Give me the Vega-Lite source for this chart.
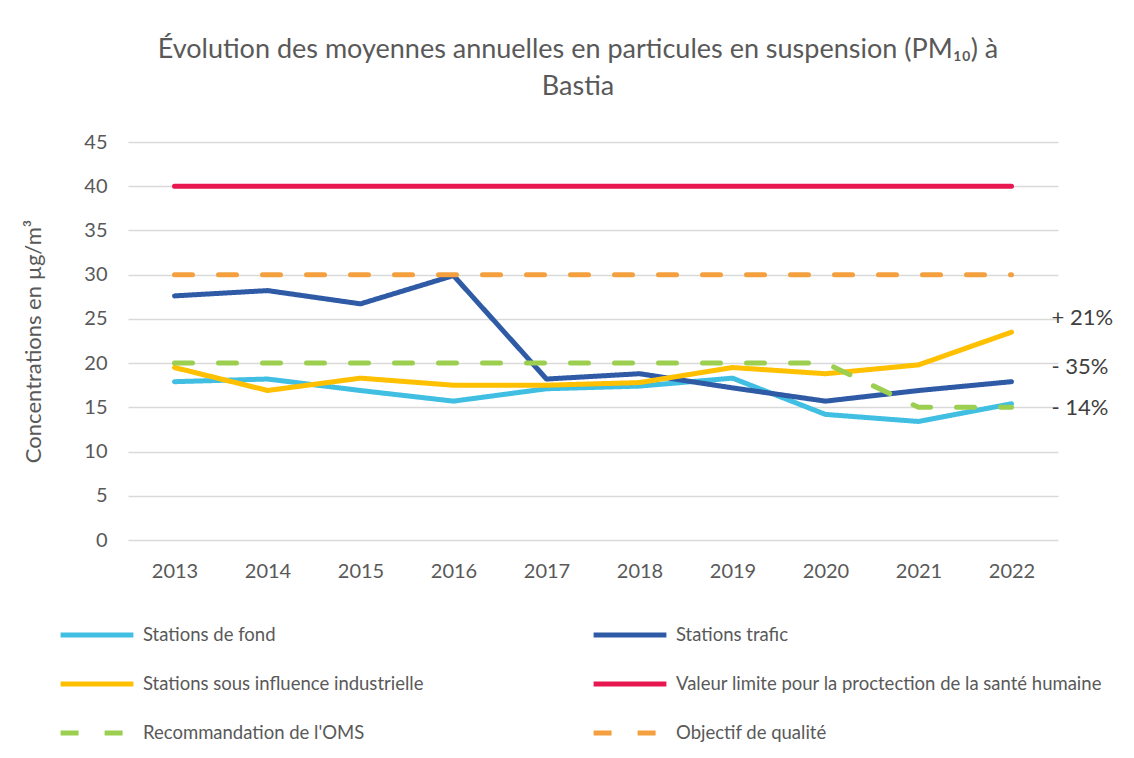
{
  "$schema": "https://vega.github.io/schema/vega-lite/v6.json",
  "autosize": {"type": "none"},
  "width": 930,
  "height": 398,
  "padding": {"left": 128, "top": 142, "right": 76, "bottom": 218},
  "background": "white",
  "config": {
    "font": "Lato",
    "view": {"stroke": null},
    "axis": {"labelFont": "Lato", "titleFont": "Lato", "labelColor": "#595959", "titleColor": "#595959"},
    "legend": {"labelFont": "Lato"}
  },
  "title": {
    "text": ["Évolution des moyennes annuelles en particules en suspension (PM₁₀) à", "Bastia"],
    "fontSize": 27,
    "fontWeight": "normal",
    "color": "#595959",
    "anchor": "middle",
    "dx": -15,
    "offset": 31,
    "lineHeight": 37
  },
  "datasets": {
    "series": [
      {"year": "2013", "series": "Stations de fond", "value": 17.9},
      {"year": "2014", "series": "Stations de fond", "value": 18.2},
      {"year": "2015", "series": "Stations de fond", "value": 16.9},
      {"year": "2016", "series": "Stations de fond", "value": 15.7},
      {"year": "2017", "series": "Stations de fond", "value": 17.1},
      {"year": "2018", "series": "Stations de fond", "value": 17.4},
      {"year": "2019", "series": "Stations de fond", "value": 18.3},
      {"year": "2020", "series": "Stations de fond", "value": 14.2},
      {"year": "2021", "series": "Stations de fond", "value": 13.4},
      {"year": "2022", "series": "Stations de fond", "value": 15.4},
      {"year": "2013", "series": "Stations trafic", "value": 27.6},
      {"year": "2014", "series": "Stations trafic", "value": 28.2},
      {"year": "2015", "series": "Stations trafic", "value": 26.7},
      {"year": "2016", "series": "Stations trafic", "value": 29.9},
      {"year": "2017", "series": "Stations trafic", "value": 18.2},
      {"year": "2018", "series": "Stations trafic", "value": 18.8},
      {"year": "2019", "series": "Stations trafic", "value": 17.2},
      {"year": "2020", "series": "Stations trafic", "value": 15.7},
      {"year": "2021", "series": "Stations trafic", "value": 16.9},
      {"year": "2022", "series": "Stations trafic", "value": 17.9},
      {"year": "2013", "series": "Stations sous influence industrielle", "value": 19.5},
      {"year": "2014", "series": "Stations sous influence industrielle", "value": 16.9},
      {"year": "2015", "series": "Stations sous influence industrielle", "value": 18.3},
      {"year": "2016", "series": "Stations sous influence industrielle", "value": 17.5},
      {"year": "2017", "series": "Stations sous influence industrielle", "value": 17.5},
      {"year": "2018", "series": "Stations sous influence industrielle", "value": 17.8},
      {"year": "2019", "series": "Stations sous influence industrielle", "value": 19.5},
      {"year": "2020", "series": "Stations sous influence industrielle", "value": 18.8},
      {"year": "2021", "series": "Stations sous influence industrielle", "value": 19.8},
      {"year": "2022", "series": "Stations sous influence industrielle", "value": 23.5},
      {"year": "2013", "series": "Valeur limite pour la proctection de la santé humaine", "value": 40},
      {"year": "2014", "series": "Valeur limite pour la proctection de la santé humaine", "value": 40},
      {"year": "2015", "series": "Valeur limite pour la proctection de la santé humaine", "value": 40},
      {"year": "2016", "series": "Valeur limite pour la proctection de la santé humaine", "value": 40},
      {"year": "2017", "series": "Valeur limite pour la proctection de la santé humaine", "value": 40},
      {"year": "2018", "series": "Valeur limite pour la proctection de la santé humaine", "value": 40},
      {"year": "2019", "series": "Valeur limite pour la proctection de la santé humaine", "value": 40},
      {"year": "2020", "series": "Valeur limite pour la proctection de la santé humaine", "value": 40},
      {"year": "2021", "series": "Valeur limite pour la proctection de la santé humaine", "value": 40},
      {"year": "2022", "series": "Valeur limite pour la proctection de la santé humaine", "value": 40},
      {"year": "2013", "series": "Recommandation de l'OMS", "value": 20},
      {"year": "2014", "series": "Recommandation de l'OMS", "value": 20},
      {"year": "2015", "series": "Recommandation de l'OMS", "value": 20},
      {"year": "2016", "series": "Recommandation de l'OMS", "value": 20},
      {"year": "2017", "series": "Recommandation de l'OMS", "value": 20},
      {"year": "2018", "series": "Recommandation de l'OMS", "value": 20},
      {"year": "2019", "series": "Recommandation de l'OMS", "value": 20},
      {"year": "2020", "series": "Recommandation de l'OMS", "value": 20},
      {"year": "2021", "series": "Recommandation de l'OMS", "value": 15},
      {"year": "2022", "series": "Recommandation de l'OMS", "value": 15},
      {"year": "2013", "series": "Objectif de qualité", "value": 30},
      {"year": "2014", "series": "Objectif de qualité", "value": 30},
      {"year": "2015", "series": "Objectif de qualité", "value": 30},
      {"year": "2016", "series": "Objectif de qualité", "value": 30},
      {"year": "2017", "series": "Objectif de qualité", "value": 30},
      {"year": "2018", "series": "Objectif de qualité", "value": 30},
      {"year": "2019", "series": "Objectif de qualité", "value": 30},
      {"year": "2020", "series": "Objectif de qualité", "value": 30},
      {"year": "2021", "series": "Objectif de qualité", "value": 30},
      {"year": "2022", "series": "Objectif de qualité", "value": 30}
    ],
    "notes": [
      {"year": "2022", "value": 25.1, "label": "+ 21%"},
      {"year": "2022", "value": 19.6, "label": "- 35%"},
      {"year": "2022", "value": 14.9, "label": "- 14%"}
    ]
  },
  "layer": [
    {
      "data": {"name": "series"},
      "mark": {"type": "line", "strokeWidth": 5, "strokeCap": "round", "strokeJoin": "round"},
      "encoding": {
        "x": {
          "field": "year", "type": "ordinal",
          "scale": {"type": "point", "padding": 0.5},
          "axis": {"title": null, "labelAngle": 0, "labelFontSize": 20, "labelPadding": 21, "ticks": false, "domain": false, "grid": false}
        },
        "y": {
          "field": "value", "type": "quantitative",
          "scale": {"domain": [0, 45], "nice": false},
          "axis": {"title": "Concentrations en µg/m³", "titleFontSize": 22, "titleFontWeight": "normal", "titleX": -83, "labelFontSize": 20, "labelPadding": 21, "values": [0,5,10,15,20,25,30,35,40,45], "ticks": false, "domain": false, "grid": true, "gridColor": "#d9d9d9", "gridWidth": 1.5}
        },
        "color": {
          "field": "series", "type": "nominal",
          "scale": {
            "domain": ["Stations de fond", "Stations sous influence industrielle", "Recommandation de l'OMS", "Stations trafic", "Valeur limite pour la proctection de la santé humaine", "Objectif de qualité"],
            "range": ["#40BFE2", "#FFC000", "#9CCF50", "#2E5AA6", "#E8174F", "#F4A03F"]
          },
          "legend": {
            "title": null, "orient": "none", "legendX": -70, "legendY": 454, "columns": 2, "columnPadding": 159, "rowPadding": -27, "labelLimit": 700,
            "symbolType": "stroke", "symbolSize": 5300, "symbolStrokeWidth": 5, "labelFontSize": 18.5, "labelColor": "#595959", "labelOffset": 7, "padding": 0
          }
        },
        "strokeDash": {
          "field": "series", "type": "nominal",
          "scale": {
            "domain": ["Stations de fond", "Stations sous influence industrielle", "Recommandation de l'OMS", "Stations trafic", "Valeur limite pour la proctection de la santé humaine", "Objectif de qualité"],
            "range": [[1, 0], [1, 0], [18, 26], [1, 0], [1, 0], [18, 26]]
          },
          "legend": {
            "title": null, "orient": "none", "legendX": -70, "legendY": 454, "columns": 2, "columnPadding": 159, "rowPadding": -27, "labelLimit": 700,
            "symbolType": "stroke", "symbolSize": 5300, "symbolStrokeWidth": 5, "labelFontSize": 18.5, "labelColor": "#595959", "labelOffset": 7, "padding": 0
          }
        }
      }
    },
    {
      "data": {"name": "notes"},
      "mark": {"type": "text", "align": "left", "baseline": "middle", "dx": 40, "fontSize": 22, "color": "#404040", "font": "Lato"},
      "encoding": {
        "x": {"field": "year", "type": "ordinal", "scale": {"type": "point", "padding": 0.5}},
        "y": {"field": "value", "type": "quantitative"},
        "text": {"field": "label"}
      }
    }
  ]
}
